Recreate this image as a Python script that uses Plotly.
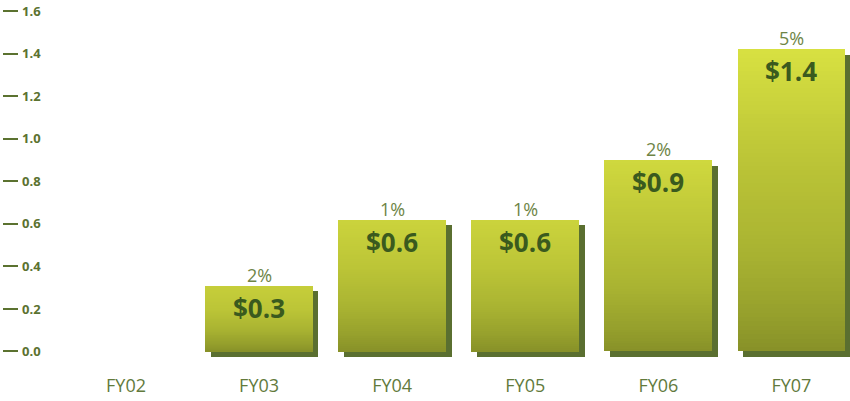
import plotly.graph_objects as go
import numpy as np

categories = ["FY02", "FY03", "FY04", "FY05", "FY06", "FY07"]
values = [0.0, 0.31, 0.62, 0.62, 0.90, 1.42]
value_labels = ["", "$0.3", "$0.6", "$0.6", "$0.9", "$1.4"]
pct_labels = ["", "2%", "1%", "1%", "2%", "5%"]
y_ticks = [0.0, 0.2, 0.4, 0.6, 0.8, 1.0, 1.2, 1.4, 1.6]

idx = np.arange(len(categories))
vals = np.array(values)
BAR_W = 0.81
SH_DX = 0.041
SH_DY = 0.026


def hex2rgb(h):
    h = h.lstrip("#")
    return np.array([int(h[i:i + 2], 16) for i in (0, 2, 4)], dtype=float)


def rgb(c):
    return "rgb(%d,%d,%d)" % tuple(np.clip(np.round(c), 0, 255))


stops_f = [0.0, 0.12, 0.35, 0.65, 1.0]
bottom = hex2rgb("#868f28")
s1 = hex2rgb("#959f2c")
s2 = hex2rgb("#aab432")
s3 = hex2rgb("#bcc537")
top_lo = hex2rgb("#c6ce3a")
top_hi = hex2rgb("#d7e041")


def grad(f, v):
    t = np.clip((v - 0.3) / 1.1, 0, 1)
    top = top_lo + (top_hi - top_lo) * t
    cols = [bottom, s1, s2, s3, top]
    for i in range(len(stops_f) - 1):
        if f <= stops_f[i + 1]:
            u = (f - stops_f[i]) / (stops_f[i + 1] - stops_f[i])
            return cols[i] + (cols[i + 1] - cols[i]) * u
    return cols[-1]


fig = go.Figure()

# shadow / extrusion
fig.add_trace(go.Bar(
    x=idx + SH_DX, y=vals, base=-SH_DY, width=BAR_W,
    marker=dict(color="#5a6f30", line=dict(width=0)),
    hoverinfo="skip", showlegend=False,
))

# gradient front face built from stacked layers
N = 70
for k in range(N):
    f = 1 - k / N
    fig.add_trace(go.Bar(
        x=idx, y=vals * f, width=BAR_W,
        marker=dict(color=[rgb(grad(f, v)) for v in vals], line=dict(width=0)),
        hoverinfo="skip", showlegend=False,
    ))

annotations = []
for i, v in enumerate(values):
    if value_labels[i]:
        annotations.append(dict(
            x=i, y=v, xref="x", yref="y", text=value_labels[i], showarrow=False,
            yanchor="top", yshift=-2,
            font=dict(family="Open Sans", size=26, color="#3a5a1e", weight="bold"),
        ))
    if pct_labels[i]:
        annotations.append(dict(
            x=i, y=v, xref="x", yref="y", text=pct_labels[i], showarrow=False,
            yanchor="bottom", yshift=-3,
            font=dict(family="Open Sans", size=18, color="#6e8446"),
        ))

fig.update_layout(
    width=850, height=401,
    margin=dict(l=19, r=0, t=0, b=31),
    paper_bgcolor="white", plot_bgcolor="white",
    barmode="overlay", bargap=0,
    showlegend=False,
    annotations=annotations,
    xaxis=dict(
        range=[-0.804, 5.44], tickvals=idx, ticktext=categories,
        showgrid=False, zeroline=False, showline=False, ticks="",
        tickfont=dict(family="Open Sans", size=18, color="#627a3c"),
        ticklabelstandoff=3,
    ),
    yaxis=dict(
        range=[-0.087, 1.652], tickvals=y_ticks,
        ticktext=["%.1f" % t for t in y_ticks],
        showgrid=False, zeroline=False, showline=False,
        ticks="outside", ticklen=15, tickwidth=2, tickcolor="#5b7230",
        ticklabelposition="inside",
        tickfont=dict(family="Open Sans", size=13, color="#5b7230", weight="bold"),
    ),
)

fig.write_html(
    "out.html",
    config={"displayModeBar": False},
    post_script="document.body.style.margin='0';document.body.style.padding='0';",
)
